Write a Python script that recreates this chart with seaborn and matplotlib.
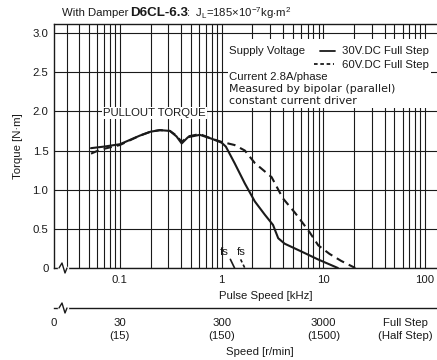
import matplotlib
matplotlib.use("Agg")
import matplotlib.pyplot as plt
from matplotlib.patches import Rectangle
from matplotlib.ticker import NullLocator
import pandas as pd
import seaborn as sns

# pullout torque, 30V.DC full step (solid)
speed_30v = [0.052, 0.07, 0.1, 0.157, 0.2, 0.247, 0.31, 0.36, 0.405, 0.467, 0.61, 0.8, 1.0,
             1.1, 1.34, 1.69, 2.12, 2.66, 3.2, 3.6, 4.17, 6.1, 8.85, 13.9]
torque_30v = [1.53, 1.55, 1.58, 1.69, 1.74, 1.76, 1.75, 1.68, 1.59, 1.67, 1.70, 1.65, 1.60,
              1.55, 1.34, 1.08, 0.85, 0.68, 0.55, 0.38, 0.31, 0.21, 0.11, 0.0]

# pullout torque, 60V.DC full step (dashed)
speed_60v = [0.052, 0.064, 0.1, 0.157, 0.2, 0.247, 0.31, 0.36, 0.405, 0.467, 0.61, 0.8, 1.0,
             1.34, 1.69, 2.12, 3.1, 4.0, 5.3, 7.3, 8.9, 11.5, 15.0, 20.6]
torque_60v = [1.46, 1.51, 1.57, 1.69, 1.74, 1.76, 1.75, 1.69, 1.61, 1.68, 1.71, 1.65, 1.61,
              1.57, 1.50, 1.34, 1.16, 0.89, 0.70, 0.46, 0.29, 0.18, 0.09, 0.0]

# max starting frequency fs [kHz]
fs_values = [1.34, 1.69]
fs_styles = ["-", (0, (2, 1.5))]
fs_label_shift = [0.80, 0.92]

y_ticks = [0, 0.5, 1.0, 1.5, 2.0, 2.5, 3.0]
y_ticklabels = ["0", "0.5", "1.0", "1.5", "2.0", "2.5", "3.0"]
x_ticks = [0.1, 1, 10, 100]
x_ticklabels = ["0.1", "1", "10", "100"]
rpm_ticks = [0.0225, 0.1, 1, 10, 64]
rpm_labels = ["0", "30\n(15)", "300\n(150)", "3000\n(1500)", "Full Step\n(Half Step)"]

sns.set_theme(style="white")
plt.rcParams["font.family"] = ["Liberation Sans", "DejaVu Sans"]
plt.rcParams["mathtext.fontset"] = "custom"
plt.rcParams["mathtext.rm"] = "Liberation Sans"
plt.rcParams["mathtext.bf"] = "Liberation Sans:bold"

ink = "#1a1a1a"
fsz = 8.2

fig = plt.figure(figsize=(4.37, 3.6), dpi=100)
W, H = 437, 360
ax = fig.add_axes([54 / W, 92 / H, 383 / W, 244 / H])
ax.set_xscale("log")
ax.set_xlim(0.0225, 131)
ax.set_ylim(0, 3.115)

df30 = pd.DataFrame({"speed": speed_30v, "torque": torque_30v})
df60 = pd.DataFrame({"speed": speed_60v, "torque": torque_60v})
sns.lineplot(data=df30, x="speed", y="torque", ax=ax, color=ink, lw=1.5, sort=False, zorder=4)
sns.lineplot(data=df60, x="speed", y="torque", ax=ax, color=ink, lw=1.5, sort=False,
             linestyle=(0, (4, 2.5)), zorder=4)

# grid
ax.grid(True, which="major", axis="both", color=ink, lw=0.8)
ax.grid(True, which="minor", axis="x", color=ink, lw=0.8)
ax.set_axisbelow(True)
ax.set_yticks(y_ticks, labels=y_ticklabels)
ax.set_xticks(x_ticks, labels=x_ticklabels)
ax.tick_params(axis="both", which="both", length=0, labelsize=fsz, colors=ink)
ax.tick_params(axis="x", pad=5)
ax.tick_params(axis="y", pad=4)
for s in ["left", "bottom", "top"]:
    ax.spines[s].set_visible(True)
    ax.spines[s].set_color(ink)
    ax.spines[s].set_linewidth(1.0)
ax.spines["right"].set_visible(False)
ax.set_xlabel("Pulse Speed [kHz]", fontsize=fsz, color=ink)
ax.xaxis.set_label_coords((266 - 54) / 383, (268 - 291) / 244)
ax.set_ylabel("Torque [N·m]", fontsize=fsz, color=ink, labelpad=7)

# fs markers
for fs, ls, k in zip(fs_values, fs_styles, fs_label_shift):
    ax.plot([fs * 0.91, fs], [0.11, 0.0], color=ink, lw=1.2, ls=ls, zorder=4)
    ax.text(fs * k, 0.21, "fs", fontsize=fsz, color=ink, ha="center",
            va="center", zorder=5)

ax.text(0.22, 1.98, "PULLOUT TORQUE", fontsize=fsz, color=ink, ha="center", va="center",
        zorder=5, bbox=dict(facecolor="white", edgecolor="none", pad=1.0))


def axfrac(px, py):
    return (px - 54) / 383, (268 - py) / 244


# conditions box
x0, y0 = axfrac(228, 108)
x1, y1 = axfrac(431, 39)
ax.add_patch(Rectangle((x0, y0), x1 - x0, y1 - y0, transform=ax.transAxes,
                       facecolor="white", edgecolor="none", zorder=3))
tx = axfrac(229, 0)[0]
ax.text(tx, axfrac(0, 51)[1], "Supply Voltage", transform=ax.transAxes, fontsize=fsz,
        color=ink, va="center", zorder=5)
ax.text(axfrac(342, 0)[0], axfrac(0, 51)[1], "30V.DC Full Step", transform=ax.transAxes,
        fontsize=fsz, color=ink, va="center", zorder=5)
ax.text(axfrac(342, 0)[0], axfrac(0, 65)[1], "60V.DC Full Step", transform=ax.transAxes,
        fontsize=fsz, color=ink, va="center", zorder=5)
ax.plot([axfrac(320, 0)[0], axfrac(335, 0)[0]], [axfrac(0, 51)[1]] * 2,
        transform=ax.transAxes, color=ink, lw=1.3, zorder=5)
ax.plot([axfrac(314, 0)[0], axfrac(334, 0)[0]], [axfrac(0, 64)[1]] * 2,
        transform=ax.transAxes, color=ink, lw=1.3, ls=(0, (2, 1.5)), zorder=5)
ax.text(tx, axfrac(0, 77)[1], "Current 2.8A/phase", transform=ax.transAxes, fontsize=fsz,
        color=ink, va="center", zorder=5, bbox=dict(facecolor="white", edgecolor="none", pad=0.5))
ax.text(tx, axfrac(0, 89)[1], "Measured by bipolar (parallel)", transform=ax.transAxes,
        fontsize=7.9, family="DejaVu Sans", color=ink, va="center", zorder=5)
ax.text(tx, axfrac(0, 101)[1], "constant current driver", transform=ax.transAxes,
        fontsize=7.9, family="DejaVu Sans", color=ink, va="center", zorder=5)

# speed [r/min] axis
sec = ax.secondary_xaxis(axfrac(0, 308)[1])
sec.xaxis.set_minor_locator(NullLocator())
sec.set_xticks(rpm_ticks, labels=rpm_labels)
sec.tick_params(which="both", length=0, pad=7, labelsize=fsz, colors=ink)
sec.spines["bottom"].set_color(ink)
sec.spines["bottom"].set_linewidth(1.0)
for lab in sec.get_xticklabels():
    lab.set_linespacing(1.35)
fig.text(260 / W, 1 - 352 / H, "Speed [r/min]", fontsize=fsz, color=ink,
         ha="center", va="center")


# axis break zigzags
def zigzag(ybase):
    xs = [axfrac(p, 0)[0] for p in (59, 62, 65, 67)]
    yb = axfrac(0, ybase)[1]
    ax.plot([xs[0], xs[-1]], [yb, yb], transform=ax.transAxes, color="white", lw=2.5,
            clip_on=False, zorder=6)
    ys = [yb, axfrac(0, ybase - 5)[1], axfrac(0, ybase + 5)[1], yb]
    ax.plot(xs, ys, transform=ax.transAxes, color=ink, lw=1.0, clip_on=False, zorder=7)


zigzag(268)
zigzag(308)

# title made of pieces: regular, bold, regular
renderer = fig.canvas.get_renderer()
pieces = [("With Damper ", dict(fontsize=fsz)),
          ("D6CL-6.3", dict(fontsize=9.6, fontweight="heavy")),
          (r":  J$_{\mathrm{L}}$=185$\times$10$^{-7}$kg$\cdot$m$^{2}$", dict(fontsize=fsz))]
xpos = 62
for txt, kw in pieces:
    t = fig.text(xpos / W, 1 - 13 / H, txt, color=ink, va="center", ha="left", **kw)
    xpos += t.get_window_extent(renderer).width - 1.5

fig.savefig("out.png", dpi=100)
